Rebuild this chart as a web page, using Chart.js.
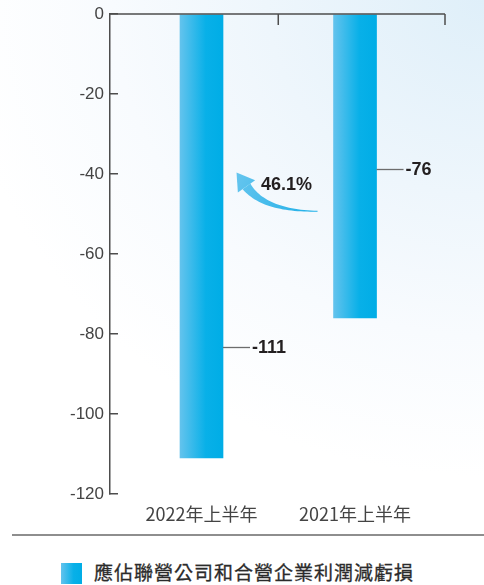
<!DOCTYPE html>
<html lang="zh-Hant">
<head>
<meta charset="utf-8">
<title>應佔聯營公司和合營企業利潤減虧損</title>
<script src="https://cdn.jsdelivr.net/npm/chart.js@4.4.1/dist/chart.umd.min.js"></script>
<style>
  html, body { margin: 0; padding: 0; }
  body {
    width: 484px; height: 585px; overflow: hidden; position: relative;
    background: radial-gradient(ellipse 620px 560px at 100% 0%, #dfeff9 0%, #eef6fc 35%, #f8fbfe 60%, #ffffff 85%);
    font-family: "Noto Sans CJK TC", "Noto Sans", sans-serif;
  }
  #chart-wrap { position: absolute; left: 0; top: 0; width: 484px; height: 530px; }
  #divider { position: absolute; left: 12px; right: 0; top: 534px; height: 2px; background: #8e8e8e; }
  #legend { position: absolute; left: 61px; top: 560px; display: flex; align-items: center; }
  #legend .swatch {
    width: 21px; height: 21px; margin-top: 2px;
    background: linear-gradient(to right, #63c3ed, #08b0e8 60%, #00ade6);
  }
  #legend .name {
    margin-left: 12px; font-size: 19px; font-weight: 400; letter-spacing: 1px;
    color: #2b2b2b; line-height: 24px; -webkit-text-stroke: 0.3px #2b2b2b;
  }
</style>
</head>
<body>
<div id="chart-wrap"><canvas id="lossChart"></canvas></div>
<div id="divider"></div>
<div id="legend"><span class="swatch"></span><span class="name" id="legend-name"></span></div>

<script>
// --- Datos ---
const categories = ['2022年上半年', '2021年上半年'];
const profitShare = [-111, -76];
const yTicks = [0, -20, -40, -60, -80, -100, -120];
const seriesName = '應佔聯營公司和合營企業利潤減虧損';

// --- Disposición ---
const BAR_WIDTH = 43;
const X_RANGE = [-0.596, 1.586];        // deja las barras algo desplazadas hacia el centro
const labelDepth = [0.75, 0.51];        // altura de cada etiqueta, como fracción de su barra
const ARROW_TIP = -39.6;                // punta de la flecha (en unidades del eje y)
const ARROW_TAIL = -49.3;               // cola de la flecha
const AXIS_COLOR = '#4d4d4d';
const TEXT_DARK = '#231f20';

document.getElementById('legend-name').textContent = seriesName;

// Degradado horizontal de cada barra, calculado a partir de la escala x
const barFill = (ctx) => {
    const xs = ctx.chart.scales.x;
    if (ctx.type !== 'data' || !xs) return '#00ade6';
    const cx = xs.getPixelForValue(ctx.dataIndex);
    if (!isFinite(cx)) return '#00ade6';
    const g = ctx.chart.ctx.createLinearGradient(cx - BAR_WIDTH / 2, 0, cx + BAR_WIDTH / 2, 0);
    g.addColorStop(0, '#63c3ed');
    g.addColorStop(0.6, '#08b0e8');
    g.addColorStop(1, '#00ade6');
    return g;
};

// Flecha curva con grosor variable, de la cola a la punta
const drawArrow = (c, tail, tip) => {
    const base = { x: tip.x + 10, y: tip.y + 14 };
    const ctrl = { x: base.x + 18, y: tail.y };
    const dx = base.x - tip.x, dy = base.y - tip.y;
    const len = Math.hypot(dx, dy);
    const nx = -dy / len, ny = dx / len;

    const left = [], right = [];
    const steps = 30;
    for (let i = 0; i <= steps; i++) {
        const t = i / steps, u = 1 - t;
        const px = u * u * tail.x + 2 * u * t * ctrl.x + t * t * base.x;
        const py = u * u * tail.y + 2 * u * t * ctrl.y + t * t * base.y;
        const tx = 2 * u * (ctrl.x - tail.x) + 2 * t * (base.x - ctrl.x);
        const ty = 2 * u * (ctrl.y - tail.y) + 2 * t * (base.y - ctrl.y);
        const tl = Math.hypot(tx, ty) || 1;
        const hw = 0.5 + 4.3 * Math.pow(t, 1.4);
        left.push([px - ty / tl * hw, py + tx / tl * hw]);
        right.push([px + ty / tl * hw, py - tx / tl * hw]);
    }

    const g = c.createLinearGradient(tail.x, tail.y, tip.x, tip.y);
    g.addColorStop(0, '#1fb0e8');
    g.addColorStop(1, '#66c5ee');
    c.fillStyle = g;

    c.beginPath();
    left.forEach(([x, y], i) => (i ? c.lineTo(x, y) : c.moveTo(x, y)));
    right.reverse().forEach(([x, y]) => c.lineTo(x, y));
    c.closePath();
    c.fill();

    c.beginPath();
    c.moveTo(tip.x, tip.y);
    c.lineTo(base.x + nx * 10.6, base.y + ny * 10.6);
    c.lineTo(base.x - nx * 10.6, base.y - ny * 10.6);
    c.closePath();
    c.fill();
};

// Línea superior del eje, etiquetas de valor y la flecha de variación
const annotations = {
    id: 'annotations',
    afterDatasetsDraw(chart) {
        const c = chart.ctx;
        const { left, right } = chart.chartArea;
        const xs = chart.scales.x, ys = chart.scales.y;
        const y0 = ys.getPixelForValue(0);
        const bars = chart.getDatasetMeta(0).data;

        c.save();
        c.strokeStyle = AXIS_COLOR;
        c.lineWidth = 1.5;
        c.beginPath();
        c.moveTo(left, y0);
        c.lineTo(right, y0);
        [xs.getPixelForValue(0.5), right].forEach(x => {
            c.moveTo(x, y0);
            c.lineTo(x, y0 + 11);
        });
        c.stroke();

        c.font = 'bold 18px "Liberation Sans", Arial, sans-serif';
        c.textBaseline = 'middle';
        c.textAlign = 'left';
        bars.forEach((bar, i) => {
            const ly = Math.round(ys.getPixelForValue(profitShare[i] * labelDepth[i])) + 0.5;
            const lx = bar.x + bar.width / 2;
            c.strokeStyle = '#6d6d6d';
            c.lineWidth = 1.3;
            c.beginPath();
            c.moveTo(lx, ly);
            c.lineTo(lx + 27, ly);
            c.stroke();
            c.fillStyle = TEXT_DARK;
            c.fillText(String(profitShare[i]), lx + 29, ly + 1);
        });

        const tip = { x: bars[0].x + BAR_WIDTH / 2 + 13.5, y: ys.getPixelForValue(ARROW_TIP) };
        const tail = { x: bars[1].x - BAR_WIDTH / 2 - 16, y: ys.getPixelForValue(ARROW_TAIL) };
        drawArrow(c, tail, tip);

        const change = ((profitShare[0] - profitShare[1]) / profitShare[1] * 100).toFixed(1) + '%';
        c.fillStyle = TEXT_DARK;
        c.fillText(change, tip.x + 24.5, tip.y + 13);
        c.restore();
    }
};

new Chart(document.getElementById('lossChart'), {
    type: 'bar',
    data: {
        datasets: [{
            label: seriesName,
            data: profitShare.map((v, i) => ({ x: i, y: v })),
            backgroundColor: barFill,
            barThickness: BAR_WIDTH,
            borderWidth: 0
        }]
    },
    options: {
        responsive: true,
        maintainAspectRatio: false,
        animation: false,
        layout: { padding: { top: 14, right: 39, left: 0, bottom: 0 } },
        plugins: { legend: { display: false }, tooltip: { enabled: false } },
        scales: {
            x: {
                type: 'linear',
                position: 'bottom',
                offset: false,
                min: X_RANGE[0],
                max: X_RANGE[1],
                afterBuildTicks: s => { s.ticks = categories.map((c, i) => ({ value: i })); },
                afterFit: s => { s.height = 36; s.paddingLeft = 0; s.paddingRight = 0; },
                grid: { display: false, drawTicks: false },
                border: { display: false },
                ticks: {
                    callback: v => categories[v],
                    autoSkip: false,
                    maxRotation: 0,
                    padding: 9,
                    color: '#444',
                    font: { family: '"Noto Sans CJK TC", sans-serif', size: 18 }
                }
            },
            y: {
                min: -120,
                max: 0,
                afterBuildTicks: s => { s.ticks = yTicks.map(v => ({ value: v })); },
                afterFit: s => { s.width = 110; s.paddingTop = 0; s.paddingBottom = 0; },
                border: { display: true, color: AXIS_COLOR, width: 1.5 },
                grid: { drawOnChartArea: false, drawTicks: true, tickLength: -8, color: AXIS_COLOR, lineWidth: 1.5 },
                ticks: {
                    padding: 14,
                    color: '#444',
                    font: { family: '"Liberation Sans", Arial, sans-serif', size: 17 }
                }
            }
        }
    },
    plugins: [annotations]
});
</script>
</body>
</html>
